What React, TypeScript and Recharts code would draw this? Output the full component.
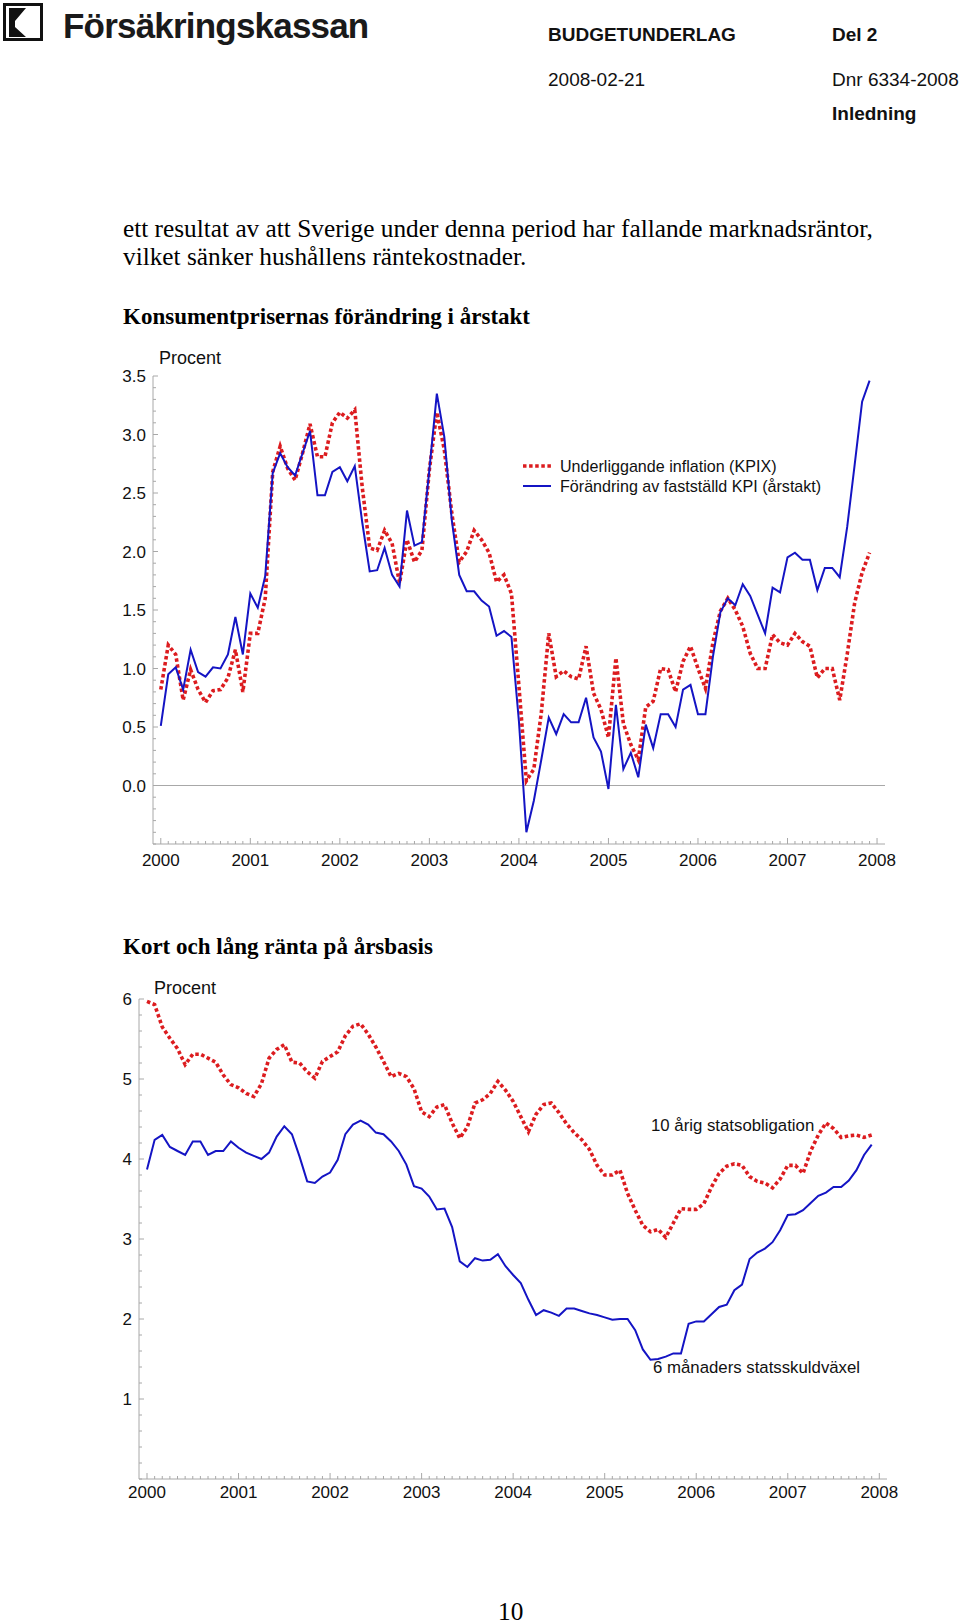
import React from "react";
import { LineChart, Line, XAxis, YAxis, ReferenceLine } from "recharts";

// ---------- data ----------
// monthly observations, Jan 2000 .. Dec 2007 (index i -> 2000 + i/12)
const kpix = [
  0.82, 1.20, 1.12, 0.73, 0.99, 0.82, 0.71, 0.81, 0.82, 0.92, 1.16, 0.80,
  1.30, 1.30, 1.60, 2.68, 2.90, 2.71, 2.61, 2.84, 3.09, 2.81, 2.81, 3.10,
  3.19, 3.14, 3.21, 2.55, 2.03, 2.01, 2.18, 2.07, 1.73, 2.10, 1.91, 2.01,
  2.70, 3.19, 2.87, 2.33, 1.91, 2.00, 2.18, 2.10, 1.99, 1.74, 1.80, 1.64,
  0.85, 0.04, 0.14, 0.62, 1.30, 0.93, 0.98, 0.93, 0.91, 1.19, 0.79, 0.65,
  0.41, 1.09, 0.53, 0.35, 0.22, 0.67, 0.72, 1.00, 0.99, 0.80, 1.06, 1.19,
  1.00, 0.83, 1.22, 1.49, 1.60, 1.50, 1.36, 1.13, 1.00, 1.00, 1.29, 1.22,
  1.20, 1.30, 1.23, 1.19, 0.92, 1.00, 1.00, 0.73, 1.12, 1.56, 1.82, 1.99,
];
const kpi = [
  0.51, 0.95, 1.01, 0.82, 1.16, 0.97, 0.93, 1.01, 1.00, 1.12, 1.44, 1.12,
  1.64, 1.52, 1.79, 2.67, 2.84, 2.72, 2.65, 2.84, 3.03, 2.48, 2.48, 2.68,
  2.72, 2.60, 2.73, 2.25, 1.83, 1.84, 2.03, 1.80, 1.70, 2.35, 2.05, 2.08,
  2.70, 3.35, 2.98, 2.27, 1.80, 1.66, 1.66, 1.58, 1.53, 1.28, 1.32, 1.27,
  0.55, -0.40, -0.13, 0.22, 0.58, 0.44, 0.61, 0.54, 0.54, 0.75, 0.41, 0.29,
  -0.03, 0.69, 0.14, 0.28, 0.07, 0.52, 0.32, 0.61, 0.61, 0.50, 0.82, 0.86,
  0.61, 0.61, 1.10, 1.48, 1.60, 1.54, 1.72, 1.62, 1.46, 1.30, 1.69, 1.65,
  1.95, 1.99, 1.93, 1.93, 1.67, 1.86, 1.86, 1.78, 2.21, 2.74, 3.28, 3.46,
];
const bond10y = [
  5.97, 5.93, 5.65, 5.51, 5.38, 5.18, 5.31, 5.31, 5.26, 5.21, 5.05, 4.93,
  4.89, 4.82, 4.78, 4.94, 5.26, 5.37, 5.43, 5.21, 5.20, 5.09, 5.01, 5.22,
  5.28, 5.34, 5.54, 5.66, 5.69, 5.56, 5.40, 5.22, 5.03, 5.07, 5.03, 4.88,
  4.59, 4.53, 4.65, 4.68, 4.45, 4.26, 4.40, 4.70, 4.74, 4.82, 4.97, 4.86,
  4.72, 4.53, 4.34, 4.56, 4.68, 4.70, 4.58, 4.44, 4.33, 4.24, 4.12, 3.92,
  3.80, 3.80, 3.86, 3.57, 3.36, 3.17, 3.09, 3.12, 3.02, 3.20, 3.38, 3.37,
  3.37, 3.44, 3.65, 3.82, 3.91, 3.94, 3.92, 3.78, 3.72, 3.70, 3.64, 3.75,
  3.92, 3.92, 3.82, 4.10, 4.30, 4.45, 4.38, 4.27, 4.29, 4.30, 4.27, 4.30,
];
const bill6m = [
  3.87, 4.24, 4.30, 4.15, 4.10, 4.05, 4.22, 4.22, 4.05, 4.10, 4.10, 4.22,
  4.14, 4.08, 4.04, 4.00, 4.08, 4.28, 4.41, 4.31, 4.03, 3.72, 3.70, 3.78,
  3.83, 3.99, 4.31, 4.43, 4.48, 4.43, 4.33, 4.31, 4.22, 4.10, 3.93, 3.66,
  3.63, 3.53, 3.37, 3.38, 3.15, 2.72, 2.65, 2.76, 2.73, 2.74, 2.81, 2.66,
  2.55, 2.45, 2.24, 2.05, 2.11, 2.08, 2.04, 2.13, 2.13, 2.10, 2.07, 2.05,
  2.02, 1.99, 2.00, 2.00, 1.86, 1.62, 1.49, 1.50, 1.53, 1.57, 1.57, 1.94,
  1.97, 1.97, 2.06, 2.15, 2.18, 2.36, 2.43, 2.75, 2.83, 2.88, 2.96, 3.11,
  3.30, 3.31, 3.36, 3.45, 3.54, 3.58, 3.65, 3.65, 3.73, 3.86, 4.05, 4.18,
];
const months = kpi.map((_, i) => 2000 + i / 12);
const yearLabels = [2000, 2001, 2002, 2003, 2004, 2005, 2006, 2007, 2008];
const yLabels1 = [0, 0.5, 1, 1.5, 2, 2.5, 3, 3.5];
const yLabels2 = [1, 2, 3, 4, 5, 6];

const legendLabels = ["Underliggande inflation (KPIX)", "Förändring av fastställd KPI (årstakt)"];

const data1 = months.map((t, i) => ({ t, kpix: kpix[i], kpi: kpi[i] }));
const data2 = months.map((t, i) => ({ t, bond: bond10y[i], bill: bill6m[i] }));

const xTicks = Array.from({ length: 97 }, (_, i) => 2000 + i / 12);
const yTicks1 = Array.from({ length: 41 }, (_, i) => (i - 5) / 10);
const yTicks2 = Array.from({ length: 31 }, (_, i) => i / 5);

// ---------- styling ----------
const RED = "#dc1c1f";
const BLUE = "#1414c4";
const AXIS = "#a8a8a8";
const SANS = "'Liberation Sans', Arial, Helvetica, sans-serif";
const SERIF = "'Liberation Serif', 'Times New Roman', serif";

const makeXTick = (labelDy: number) => (props: any) => {
  const { x, y, payload } = props;
  const v = payload.value as number;
  const isYear = Math.abs(v - Math.round(v)) < 1e-6;
  return (
    <g>
      <line x1={x} x2={x} y1={y} y2={y - (isYear ? 6 : 3)} stroke={AXIS} strokeWidth={1} />
      {isYear && yearLabels.includes(Math.round(v)) && (
        <text x={x} y={y + labelDy} textAnchor="middle" fontSize={17} fontFamily={SANS} fill="#111">
          {Math.round(v)}
        </text>
      )}
    </g>
  );
};

const makeYTick = (labels: number[], decimals: number) => (props: any) => {
  const { x, y, payload } = props;
  const v = payload.value as number;
  const isLabel = labels.some((l) => Math.abs(l - v) < 1e-6);
  return (
    <g>
      <line x1={x} x2={x + (isLabel ? 5 : 3)} y1={y} y2={y} stroke={AXIS} strokeWidth={1} />
      {isLabel && (
        <text x={x - 7} y={y + 6} textAnchor="end" fontSize={17} fontFamily={SANS} fill="#111">
          {v.toFixed(decimals)}
        </text>
      )}
    </g>
  );
};

const abs = (left: number, top: number, extra: React.CSSProperties = {}): React.CSSProperties => ({
  position: "absolute",
  left,
  top,
  whiteSpace: "nowrap",
  ...extra,
});

const headerText: React.CSSProperties = { fontFamily: SANS, fontSize: 19, lineHeight: "20px", color: "#111" };
const bodyText: React.CSSProperties = { fontFamily: SERIF, fontSize: 25.3, lineHeight: "30px", color: "#000" };
const titleText: React.CSSProperties = { fontFamily: SERIF, fontSize: 23, lineHeight: "30px", fontWeight: 700, color: "#000" };
const noteText: React.CSSProperties = { fontFamily: SANS, fontSize: 16.8, lineHeight: "20px", color: "#111" };
const legendText: React.CSSProperties = { fontFamily: SANS, fontSize: 16.1, lineHeight: "20px", color: "#111" };

export default function App() {
  return (
    <div style={{ position: "absolute", left: 0, top: 0, width: 960, height: 1624, background: "#fff", overflow: "hidden" }}>
      {/* logo */}
      <svg style={abs(0, 0)} width={50} height={46}>
        <rect x={4.5} y={4.5} width={37} height={35} fill="none" stroke="#111" strokeWidth={3} />
        <polygon points="9,8 26,8 15,21 15,27 26,37 9,37" fill="#111" />
      </svg>
      <div style={abs(63, 6, { fontFamily: SANS, fontWeight: 700, fontSize: 35, lineHeight: "40px", letterSpacing: -0.8, color: "#1a1a1a" })}>
        Försäkringskassan
      </div>
      <div style={abs(548, 25, { ...headerText, fontWeight: 700 })}>BUDGETUNDERLAG</div>
      <div style={abs(832, 25, { ...headerText, fontWeight: 700 })}>Del 2</div>
      <div style={abs(548, 70, headerText)}>2008-02-21</div>
      <div style={abs(832, 70, headerText)}>Dnr 6334-2008</div>
      <div style={abs(832, 104, { ...headerText, fontWeight: 700 })}>Inledning</div>

      {/* body text */}
      <div style={abs(123, 213, bodyText)}>ett resultat av att Sverige under denna period har fallande marknadsräntor,</div>
      <div style={abs(123, 241, bodyText)}>vilket sänker hushållens räntekostnader.</div>
      <div style={abs(123, 302, titleText)}>Konsumentprisernas förändring i årstakt</div>

      {/* chart 1 */}
      <div style={abs(0, 340)}>
        <LineChart width={960} height={540} data={data1} margin={{ top: 36, right: 75, left: 93, bottom: 6 }}>
          <XAxis
            dataKey="t"
            type="number"
            domain={[1999.913, 2008.089]}
            ticks={xTicks}
            interval={0}
            tickSize={0}
            tickMargin={0}
            height={30}
            axisLine={{ stroke: AXIS }}
            tick={makeXTick(22)}
            allowDataOverflow
          />
          <YAxis
            type="number"
            domain={[-0.5, 3.5]}
            ticks={yTicks1}
            interval={0}
            tickSize={0}
            tickMargin={0}
            width={60}
            axisLine={{ stroke: AXIS }}
            tick={makeYTick(yLabels1, 1)}
            allowDataOverflow
          />
          <ReferenceLine y={0} stroke={AXIS} strokeWidth={1} />
          <Line dataKey="kpix" stroke={RED} strokeWidth={3.6} strokeDasharray="3.5 2.6" dot={false} isAnimationActive={false} />
          <Line dataKey="kpi" stroke={BLUE} strokeWidth={2} dot={false} isAnimationActive={false} />
        </LineChart>
      </div>
      <div style={abs(159, 347, { fontFamily: SANS, fontSize: 18, lineHeight: "22px", color: "#111" })}>Procent</div>
      {/* legend */}
      <svg style={abs(520, 456)} width={34} height={40}>
        <line x1={3} x2={31} y1={10} y2={10} stroke={RED} strokeWidth={3.6} strokeDasharray="3.5 2.6" />
        <line x1={3} x2={31} y1={30} y2={30} stroke={BLUE} strokeWidth={2} />
      </svg>
      <div style={abs(560, 456, legendText)}>{legendLabels[0]}</div>
      <div style={abs(560, 476, legendText)}>{legendLabels[1]}</div>

      {/* chart 2 */}
      <div style={abs(123, 932, titleText)}>Kort och lång ränta på årsbasis</div>
      <div style={abs(0, 960)}>
        <LineChart width={960} height={560} data={data2} margin={{ top: 39, right: 73, left: 79, bottom: 11 }}>
          <XAxis
            dataKey="t"
            type="number"
            domain={[1999.9126, 2008.084]}
            ticks={xTicks}
            interval={0}
            tickSize={0}
            tickMargin={0}
            height={30}
            axisLine={{ stroke: AXIS }}
            tick={makeXTick(19)}
            allowDataOverflow
          />
          <YAxis
            type="number"
            domain={[0, 6]}
            ticks={yTicks2}
            interval={0}
            tickSize={0}
            tickMargin={0}
            width={60}
            axisLine={{ stroke: AXIS }}
            tick={makeYTick(yLabels2, 0)}
            allowDataOverflow
          />
          <Line dataKey="bond" stroke={RED} strokeWidth={3.6} strokeDasharray="3.5 2.6" dot={false} isAnimationActive={false} />
          <Line dataKey="bill" stroke={BLUE} strokeWidth={2} dot={false} isAnimationActive={false} />
        </LineChart>
      </div>
      <div style={abs(154, 977, { fontFamily: SANS, fontSize: 18, lineHeight: "22px", color: "#111" })}>Procent</div>
      <div style={abs(651, 1116, noteText)}>10 årig statsobligation</div>
      <div style={abs(653, 1358, noteText)}>6 månaders statsskuldväxel</div>

      {/* page number */}
      <div style={abs(498, 1596, bodyText)}>10</div>
    </div>
  );
}
